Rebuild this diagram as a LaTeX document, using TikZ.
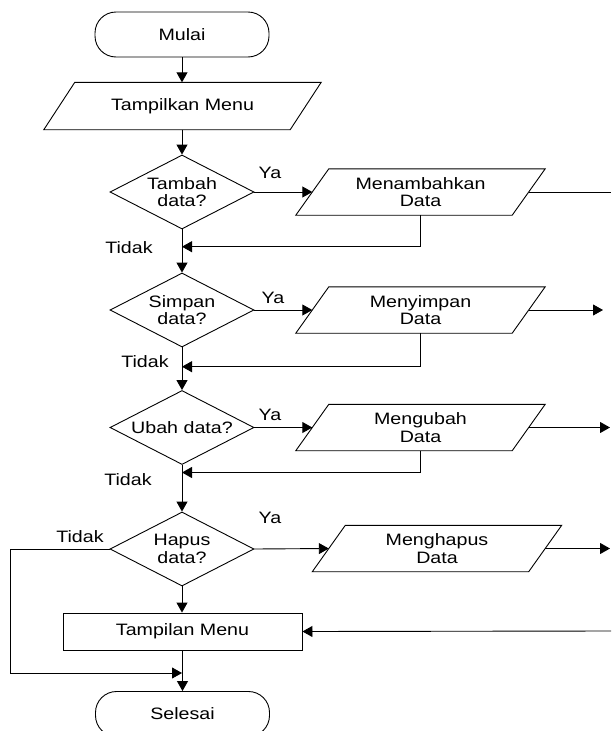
\documentclass[tikz,border=0pt]{standalone}
\usepackage{fontspec}
\setmainfont{Liberation Sans}[FakeStretch=1.19]
\usetikzlibrary{arrows.meta,shapes.geometric}
\begin{document}
\begin{tikzpicture}[x=1pt,y=-1pt,
  every node/.style={font=\fontsize{16.5}{17.5}\selectfont, inner sep=0pt, align=center},
  ln/.style={line width=0.9pt},
  arr/.style={line width=0.9pt, -{Triangle[length=10pt,width=11pt]}},
  term/.style={draw, line width=0.9pt, rectangle, rounded corners=21pt, minimum width=174pt, minimum height=45pt},
  dec/.style={draw, line width=0.9pt, diamond, aspect=2, minimum width=144pt, minimum height=74pt},
  io/.style={minimum width=249pt, minimum height=46pt},
  proc/.style={draw, line width=0.9pt, minimum width=239pt, minimum height=37pt}]
\useasboundingbox (0,0) rectangle (611,731);

% nodes
\node[term] (start) at (182,34.5) {Mulai};
\node[minimum width=277pt, minimum height=47pt] (menu) at (182.5,106) {Tampilkan Menu};
\node[dec] (d1) at (182,192) {Tambah\\data?};
\node[io] (p1) at (420.5,192) {Menambahkan\\Data};
\node[dec] (d2) at (182,310) {Simpan\\data?};
\node[io] (p2) at (420.5,310) {Menyimpan\\Data};
\node[dec] (d3) at (182,427.5) {Ubah data?};
\node[io] (p3) at (420.5,427.5) {Mengubah\\Data};
\node[dec] (d4) at (182,549) {Hapus\\data?};
\node[io] (p4) at (437,548.5) {Menghapus\\Data};
\node[proc] (tm) at (182.5,631.5) {Tampilan Menu};
\node[term] (end) at (182.5,714) {Selesai};

% parallelogram outlines
\draw[ln] (menu.south west) -- ([xshift=31pt]menu.north west) -- (menu.north east) -- ([xshift=-31pt]menu.south east) -- cycle;
\foreach \n in {p1,p2,p3,p4}
  \draw[ln] (\n.south west) -- ([xshift=33pt]\n.north west) -- (\n.north east) -- ([xshift=-33pt]\n.south east) -- cycle;

% labels
\node (ya1) at (270,173) {Ya};
\node (ya2) at (273,298) {Ya};
\node (ya3) at (270,415) {Ya};
\node (ya4) at (270,518) {Ya};
\node (ti1) at (129,248) {Tidak};
\node (ti2) at (145,362) {Tidak};
\node (ti3) at (128,480) {Tidak};
\node (ti4) at (80,537) {Tidak};

% junction / edge coordinates
\coordinate (j1) at (182,246.7);
\coordinate (j2) at (182,366.7);
\coordinate (j3) at (182,472.5);
\coordinate (j4) at (182,673);
\coordinate (e1) at (611,192);
\coordinate (e2) at (603,310);
\coordinate (e3) at (610,427.5);
\coordinate (e4) at (610,548.5);
\coordinate (e5) at (611,631);

% main flow
\draw[arr] (start.south) -- (menu.north -| start.south);
\draw[arr] (menu.south -| d1.north) -- (d1.north);
\draw[arr] (d1.south) -- (d2.north);
\draw[arr] (d2.south) -- (d3.north);
\draw[arr] (d3.south) -- (d4.north);
\draw[arr] (d4.south) -- (tm.north -| d4.south);
\draw[arr] (tm.south -| end.north) -- (end.north);

% yes branches
\draw[arr] (d1.east) -- ([xshift=16.5pt]p1.west);
\draw[arr] (d2.east) -- ([xshift=16.5pt]p2.west);
\draw[arr] (d3.east) -- ([xshift=16.5pt]p3.west);
\draw[arr] (d4.east) -- ([xshift=16.5pt]p4.west);

% returns
\draw[arr] (p1.south) |- (j1);
\draw[arr] (p2.south) |- (j2);
\draw[arr] (p3.south) |- (j3);

% right side
\draw[ln] ([xshift=-16.5pt]p1.east) -- (e1);
\draw[arr] ([xshift=-16.5pt]p2.east) -- (e2);
\draw[arr] ([xshift=-16.5pt]p3.east) -- (e3);
\draw[arr] ([xshift=-16.5pt]p4.east) -- (e4);
\draw[arr] (e5) -- (tm.east);

% no branch of Hapus
\draw[arr] (d4.west) -- ++(-99,0) |- (j4);
\end{tikzpicture}
\end{document}
